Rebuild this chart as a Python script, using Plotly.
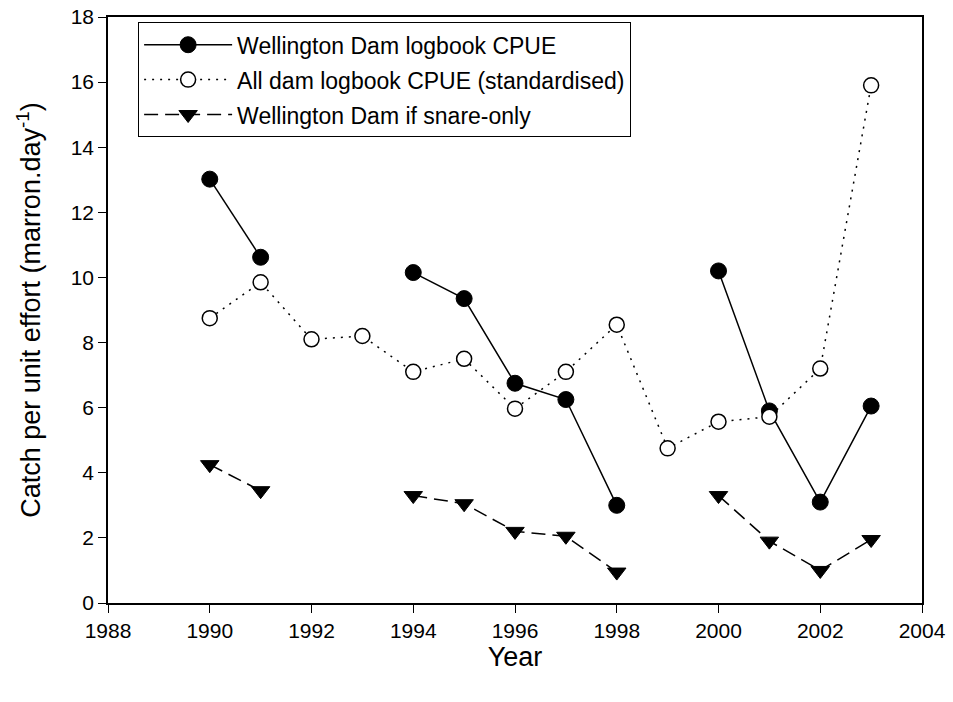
import plotly.graph_objects as go

years = [1990, 1991, 1992, 1993, 1994, 1995, 1996, 1997, 1998, 1999, 2000, 2001, 2002, 2003]
wellington_cpue = [13.02, 10.62, None, None, 10.15, 9.35, 6.75, 6.25, 3.0, None, 10.2, 5.9, 3.1, 6.05]
all_dam_cpue = [8.75, 9.85, 8.1, 8.2, 7.1, 7.5, 5.97, 7.1, 8.55, 4.75, 5.57, 5.72, 7.2, 15.9]
snare_only = [4.25, 3.45, None, None, 3.3, 3.05, 2.2, 2.05, 0.95, None, 3.3, 1.9, 1.0, 1.95]

x_ticks = list(range(1988, 2005, 2))
y_ticks = list(range(0, 19, 2))

font_family = "Liberation Sans, Arial, sans-serif"

fig = go.Figure()
fig.add_trace(go.Scatter(
    x=years, y=wellington_cpue, name="Wellington Dam logbook CPUE",
    mode="lines+markers", connectgaps=False, legendgroup="a",
    line=dict(color="black", width=1.5),
    marker=dict(symbol="circle", size=16, color="black", line=dict(color="black", width=1)),
))
fig.add_trace(go.Scatter(
    x=years, y=all_dam_cpue, name="All dam logbook CPUE (standardised)",
    mode="lines+markers", legendgroup="b",
    line=dict(color="black", width=1.5, dash="2px,6px"),
    marker=dict(symbol="circle", size=15, color="white", line=dict(color="black", width=1.5)),
))
fig.add_trace(go.Scatter(
    x=years, y=snare_only, name="Wellington Dam if snare-only",
    mode="lines+markers", connectgaps=False, legendgroup="c",
    line=dict(color="black", width=1.5, dash="14px,7px"),
    marker=dict(symbol="triangle-down", size=16, color="black", line=dict(color="black", width=1)),
))

fig.update_layout(
    width=953, height=702,
    margin=dict(l=108, r=31, t=17, b=99),
    paper_bgcolor="white", plot_bgcolor="white",
    font=dict(family=font_family, size=21, color="black"),
    showlegend=True,
    legend=dict(
        x=0.037, y=0.991, xanchor="left", yanchor="top",
        bordercolor="black", borderwidth=1, bgcolor="white",
        font=dict(size=23, family=font_family),
        itemwidth=88, tracegroupgap=2,
    ),
    xaxis=dict(
        range=[1988, 2004], tickmode="array", tickvals=x_ticks,
        ticktext=[str(v) for v in x_ticks],
        showgrid=False, zeroline=False, automargin=False,
        showline=True, linecolor="black", linewidth=1.5, mirror=True,
        ticks="outside", ticklen=8, tickwidth=1, tickcolor="black",
        tickfont=dict(size=21), ticklabeloverflow="allow",
        title=dict(text="Year", font=dict(size=27), standoff=3),
    ),
    yaxis=dict(
        range=[0, 18], tickmode="array", tickvals=y_ticks,
        ticktext=[str(v) for v in y_ticks],
        showgrid=False, zeroline=False, automargin=False,
        showline=True, linecolor="black", linewidth=1.5, mirror=True,
        ticks="outside", ticklen=8, tickwidth=1, tickcolor="black",
        tickfont=dict(size=21), ticklabeloverflow="allow",
        title=dict(text="Catch per unit effort (marron.day<sup>-1</sup>)", font=dict(size=27), standoff=22),
    ),
)

fig.write_html("out.html", config={"displayModeBar": False},
               post_script="document.body.style.margin='0';")
